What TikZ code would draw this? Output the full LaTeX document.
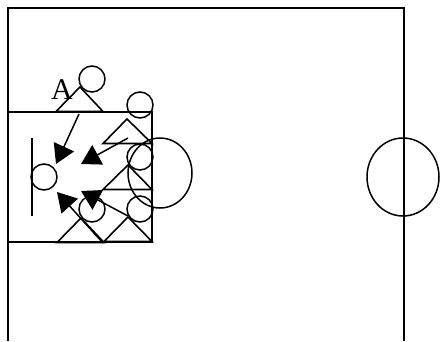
\documentclass[tikz,border=0pt]{standalone}
\usepackage{fontspec}
\setmainfont{Liberation Serif}
\usetikzlibrary{positioning,arrows.meta}
\tikzset{
  fieldln/.style={line width=1.8pt},
  plr/.style={circle,draw,minimum size=26pt,inner sep=0pt,line width=1.5pt},
  tri/.style={line width=1.6pt,line join=miter},
  run/.style={-{Triangle[length=19pt,width=22pt]},line width=1.5pt},
  ring/.style={line width=1.5pt},
}
\begin{document}
\begin{tikzpicture}[x=1pt,y=-1pt]
  \useasboundingbox (0,0) rectangle (440,341);
  % field and box
  \draw[fieldln] (8,341)--(8,8)--(404,8)--(404,341);
  \draw[fieldln] (8,112)--(152,112)--(152,242)--(8,242);
  \draw[ring] (160,173) ellipse [x radius=32,y radius=35];
  \draw[ring] (403,177) ellipse [x radius=36,y radius=39];
  % goal line
  \coordinate (gtop) at (32,138);
  \coordinate (gbot) at (32,216);
  \draw[tri] (gtop)--(gbot);
  % players
  \foreach \nm/\px/\py in {keeper/44/177,pa/92/79,pb/140/105,pc/140/157,pd/92/209,pe/140/209}{
    \node[plr] (\nm) at (\px,\py) {};
  }
  % cones
  \foreach \ax/\ay/\bl/\br in {80/87/56/103,127/119/103/152,128/165/103/152,81/218/57/104,128/217/104/152}{
    \draw[tri] (\bl,{\ay+24.5})--(\ax,\ay)--(\br,{\ay+24.5})--cycle;
  }
  \node[font=\fontsize{30}{30}\selectfont,inner sep=0pt] (lbla) at (62,90) {A};
  % runs
  \coordinate (ra) at (79,114);  \coordinate (ta) at (56,164);
  \coordinate (rb) at (128,138); \coordinate (tb) at (81,164);
  \coordinate (rc) at (128,216); \coordinate (tc) at (81,191);
  \coordinate (rd) at (103,243); \coordinate (td) at (57,192);
  \draw[run] (ra)--(ta);
  \draw[run] (rb)--(tb);
  \draw[run] (rc)--(tc);
  \draw[run] (rd)--(td);
\end{tikzpicture}
\end{document}
